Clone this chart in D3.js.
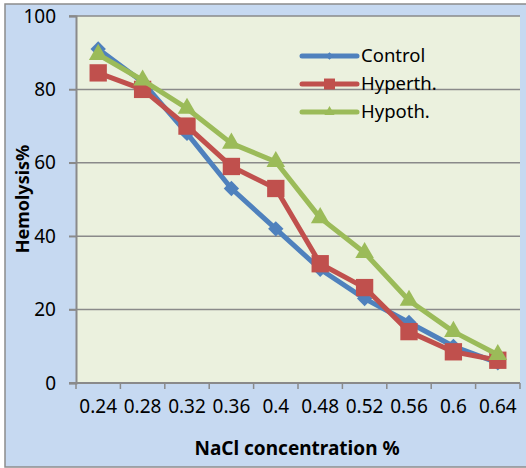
<!DOCTYPE html>
<html>
<head>
<meta charset="utf-8">
<script src="https://cdn.jsdelivr.net/npm/d3@7"></script>
<style>
  html, body { margin: 0; padding: 0; background: #fff; }
  text { font-family: "Noto Sans", "Open Sans", sans-serif; }
</style>
</head>
<body>
<div id="chart"></div>
<script>
// data
const concentrations = ["0.24", "0.28", "0.32", "0.36", "0.4", "0.48", "0.52", "0.56", "0.6", "0.64"];
const controlValues = [91, 82, 68, 53, 42, 31, 23, 16.5, 10, 5.5];
const hyperthValues = [84.5, 80, 70, 59, 53, 32.5, 26, 14, 8.5, 6.2];
const hypothValues = [89.5, 82.5, 74.8, 65.3, 60.3, 45, 35.5, 22.5, 14, 7.7];
const yTicks = [0, 20, 40, 60, 80, 100];
const seriesNames = ["Control", "Hyperth.", "Hypoth."];

const w = 526, h = 468;
const plotLeft = 76, plotRight = 520, plotTop = 16, plotBottom = 383;

const series = [
  { name: seriesNames[0], values: controlValues, color: "#4F81BD", shape: d3.symbolDiamond2, size: 150, legendSize: 35 },
  { name: seriesNames[1], values: hyperthValues, color: "#C0504D", shape: d3.symbolSquare, size: 300, legendSize: 120 },
  { name: seriesNames[2], values: hypothValues, color: "#9BBB59", shape: d3.symbolTriangle, size: 150, legendSize: 45 }
];

const svg = d3.select("#chart")
  .append("svg")
  .attr("width", w)
  .attr("height", h)
  .style("display", "block");

// chart background + frame
svg.append("rect")
  .attr("x", 5).attr("y", 4)
  .attr("width", 540).attr("height", 463)
  .attr("fill", "#C6D9F1")
  .attr("stroke", "#8C8C8C")
  .attr("stroke-width", 1.5);

// plot area
svg.append("rect")
  .attr("x", plotLeft).attr("y", plotTop)
  .attr("width", plotRight - plotLeft).attr("height", plotBottom - plotTop)
  .attr("fill", "#EBF1DE");

const xScale = d3.scaleBand()
  .domain(concentrations)
  .range([plotLeft, plotRight])
  .padding(0);

const yScale = d3.scaleLinear()
  .domain([0, 100])
  .range([plotBottom, plotTop]);

// gridlines
svg.append("g")
  .selectAll("line")
  .data(yTicks.filter(t => t > 0))
  .enter()
  .append("line")
  .attr("x1", plotLeft - 7)
  .attr("x2", plotRight)
  .attr("y1", d => yScale(d))
  .attr("y2", d => yScale(d))
  .attr("stroke", "#8A8A8A")
  .attr("stroke-width", 1.5);

// y axis
const yAxis = d3.axisLeft(yScale)
  .tickValues(yTicks)
  .tickSize(7)
  .tickPadding(13);

const yg = svg.append("g")
  .attr("transform", "translate(" + plotLeft + ",0)")
  .call(yAxis);
yg.select(".domain").attr("stroke", "#8A8A8A").attr("stroke-width", 2);
yg.selectAll(".tick line").attr("stroke", "#8A8A8A").attr("stroke-width", 1.5);
yg.selectAll(".tick text")
  .attr("font-size", 19)
  .attr("fill", "#000")
  .style("font-family", "Noto Sans");

// x axis: labels at band centres, ticks at band edges
const xAxis = d3.axisBottom(xScale)
  .tickSize(0)
  .tickPadding(17);

const xg = svg.append("g")
  .attr("transform", "translate(0," + plotBottom + ")")
  .call(xAxis);
xg.select(".domain").remove();
xg.selectAll(".tick text")
  .attr("font-size", 19)
  .attr("fill", "#000")
  .style("font-family", "Noto Sans");

const edges = concentrations.map(c => xScale(c)).concat([xScale.range()[1]]);
svg.append("line")
  .attr("x1", plotLeft - 7).attr("x2", plotRight)
  .attr("y1", plotBottom).attr("y2", plotBottom)
  .attr("stroke", "#8A8A8A")
  .attr("stroke-width", 2);
svg.append("g")
  .selectAll("line")
  .data(edges)
  .enter()
  .append("line")
  .attr("x1", d => d).attr("x2", d => d)
  .attr("y1", plotBottom).attr("y2", plotBottom + 6)
  .attr("stroke", "#8A8A8A")
  .attr("stroke-width", 1.5);

// series
const cx = d => xScale(d.cat) + xScale.bandwidth() / 2;
const line = d3.line()
  .x(cx)
  .y(d => yScale(d.v));

series.forEach(s => {
  const pts = concentrations.map((c, i) => ({ cat: c, v: s.values[i] }));
  svg.append("path")
    .datum(pts)
    .attr("d", line)
    .attr("fill", "none")
    .attr("stroke", s.color)
    .attr("stroke-width", 5)
    .attr("stroke-linejoin", "round");
  svg.append("g")
    .selectAll("path")
    .data(pts)
    .enter()
    .append("path")
    .attr("d", d3.symbol().type(s.shape).size(s.size))
    .attr("transform", d => "translate(" + cx(d) + "," + yScale(d.v) + ")")
    .attr("fill", s.color);
});

// legend
const legend = svg.append("g").attr("transform", "translate(302,56)");
series.forEach((s, i) => {
  const row = legend.append("g").attr("transform", "translate(0," + (i * 28) + ")");
  row.append("line")
    .attr("x1", 0).attr("x2", 55)
    .attr("stroke", s.color)
    .attr("stroke-width", 5)
    .attr("stroke-linecap", "round");
  row.append("path")
    .attr("d", d3.symbol().type(s.shape).size(s.legendSize))
    .attr("transform", "translate(27.5,0)")
    .attr("fill", s.color);
  row.append("text")
    .attr("x", 59)
    .attr("dy", "0.35em")
    .attr("font-size", 18.5)
    .text(s.name);
});

// axis titles
svg.append("text")
  .attr("transform", "rotate(-90)")
  .attr("x", -199)
  .attr("y", 29)
  .style("text-anchor", "middle")
  .attr("font-size", 18)
  .attr("font-weight", "bold")
  .text("Hemolysis%");

svg.append("text")
  .attr("x", 297)
  .attr("y", 455)
  .style("text-anchor", "middle")
  .attr("font-size", 19)
  .attr("font-weight", "bold")
  .text("NaCl concentration %");
</script>
</body>
</html>
